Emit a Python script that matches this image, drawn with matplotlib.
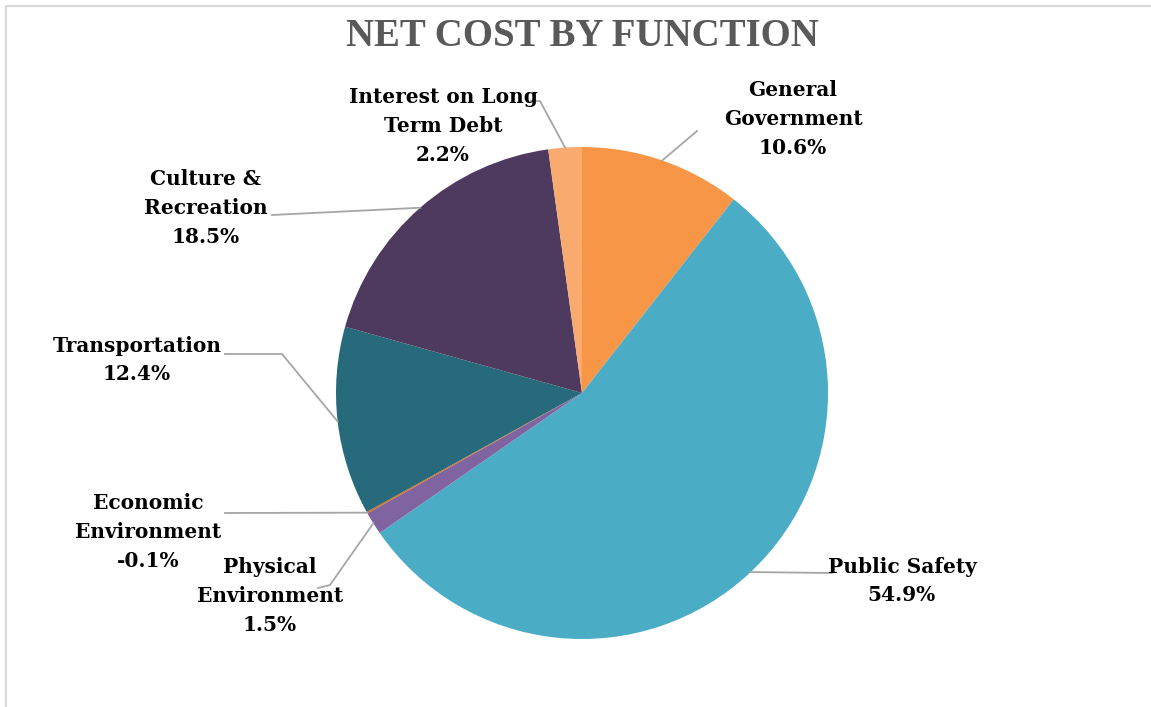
import numpy as np
import matplotlib.pyplot as plt

W, H = 1151, 707

labels = ["General\nGovernment", "Public Safety", "Physical\nEnvironment", "Economic\nEnvironment",
          "Transportation", "Culture &\nRecreation", "Interest on Long\nTerm Debt"]
pct = [10.6, 54.9, 1.5, -0.1, 12.4, 18.5, 2.2]
colors = ["#F79646", "#4BACC6", "#8064A2", "#E36C09", "#276A7C", "#4F3A5F", "#F9AA6E"]

# label centre, leader line points (pixel coords from top-left)
label_pos = [(793, 119), (902, 581), (270, 596), (148, 532), (137, 360), (206, 208), (443, 126)]
leaders = [[(697, 131)], [(832, 573)], [(330, 585), (318, 588)], [(225, 513)],
           [(282, 354), (225, 354)], [(272, 215)], [(540, 101), (531, 101)]]

cx, cy, r = 582, 393, 246

fig = plt.figure(figsize=(W / 100, H / 100), dpi=100)
ax = fig.add_axes([0, 0, 1, 1])

# chart frame (only top and left visible)
ax.plot([6, W], [H - 6, H - 6], color="#D9D9D9", linewidth=1.5)
ax.plot([6, 6], [0, H - 6], color="#D9D9D9", linewidth=1.5)

vals = [abs(v) for v in pct]
wedges, _ = ax.pie(vals, colors=colors, startangle=90, counterclock=False, center=(cx, H - cy),
                   radius=r, wedgeprops=dict(linewidth=0), frame=True)
ax.set_xlim(0, W)
ax.set_ylim(0, H)
ax.set_aspect("equal")
ax.axis("off")

total = sum(vals)
cum = 0
for i, v in enumerate(vals):
    mid = (cum + v / 2) / total * 2 * np.pi
    cum += v
    px = cx + r * np.sin(mid)
    py = cy - r * np.cos(mid)
    pts = [(px, py)] + leaders[i]
    ax.plot([p[0] for p in pts], [H - p[1] for p in pts], color="#A6A6A6", linewidth=1.3)
    lx, ly = label_pos[i]
    ax.text(lx, H - ly, labels[i] + "\n" + f"{pct[i]:.1f}%", ha="center", va="center",
            fontsize=14.5, fontweight="bold", family="DejaVu Serif", color="black", linespacing=1.55)

ax.text(582, H - 37, "NET COST BY FUNCTION", ha="center", va="center", fontsize=28,
        fontweight="bold", family="Liberation Serif", color="#595959")

fig.savefig("out.png", dpi=100)
